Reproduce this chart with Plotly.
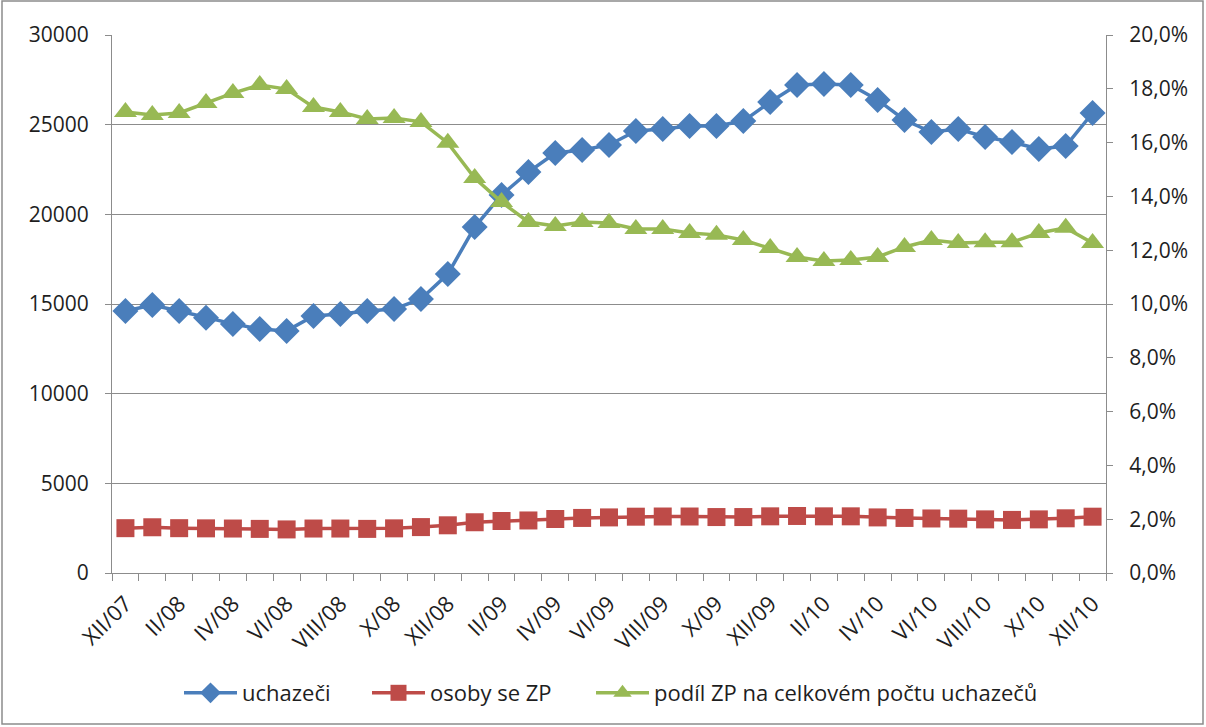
import plotly.graph_objects as go

months = ["XII/07", "I/08", "II/08", "III/08", "IV/08", "V/08", "VI/08", "VII/08", "VIII/08", "IX/08",
          "X/08", "XI/08", "XII/08", "I/09", "II/09", "III/09", "IV/09", "V/09", "VI/09", "VII/09",
          "VIII/09", "IX/09", "X/09", "XI/09", "XII/09", "I/10", "II/10", "III/10", "IV/10", "V/10",
          "VI/10", "VII/10", "VIII/10", "IX/10", "X/10", "XI/10", "XII/10"]

uchazeci = [14610, 14940, 14610, 14230, 13890, 13610, 13500, 14330, 14440, 14610,
            14720, 15280, 16670, 19290, 21080, 22360, 23420, 23590, 23870, 24650,
            24760, 24930, 24930, 25200, 26260, 27210, 27270, 27210, 26380, 25260,
            24590, 24760, 24310, 24030, 23640, 23810, 25650]

osoby_zp = [2500, 2550, 2500, 2490, 2480, 2460, 2430, 2480, 2480, 2460,
            2490, 2560, 2660, 2830, 2900, 2930, 3010, 3070, 3100, 3140,
            3150, 3150, 3120, 3120, 3160, 3180, 3160, 3160, 3100, 3070,
            3040, 3030, 2990, 2960, 2990, 3050, 3140]

podil_zp = [0.1714, 0.1703, 0.1710, 0.1747, 0.1784, 0.1814, 0.1799, 0.1732, 0.1714, 0.1688,
            0.1691, 0.1677, 0.1599, 0.1468, 0.1379, 0.1305, 0.1290, 0.1305, 0.1301, 0.1279,
            0.1279, 0.1264, 0.1257, 0.1238, 0.1208, 0.1175, 0.1160, 0.1164, 0.1175, 0.1212,
            0.1238, 0.1227, 0.1230, 0.1230, 0.1264, 0.1283, 0.1227]

left_ticks = [0, 5000, 10000, 15000, 20000, 25000, 30000]
right_ticks = [0.0, 0.02, 0.04, 0.06, 0.08, 0.10, 0.12, 0.14, 0.16, 0.18, 0.20]

BLUE = "#4A7EBB"
RED = "#BE4B48"
GREEN = "#98B954"
GRID = "#8C8C8C"
FONT = "Open Sans"
TXT = "#1E1E1E"

tick_text = [m if i % 2 == 0 else "" for i, m in enumerate(months)]

fig = go.Figure()
fig.add_trace(go.Scatter(x=months, y=uchazeci, name="uchazeči", mode="lines+markers",
                         line=dict(color=BLUE, width=3.5), legend="legend",
                         marker=dict(symbol="diamond", size=20, color=BLUE)))
fig.add_trace(go.Scatter(x=months, y=osoby_zp, name="osoby se ZP", mode="lines+markers",
                         line=dict(color=RED, width=3.5), legend="legend2",
                         marker=dict(symbol="square", size=18, color=RED)))
fig.add_trace(go.Scatter(x=months, y=podil_zp, name="podíl ZP na celkovém počtu uchazečů",
                         mode="lines+markers", yaxis="y2", legend="legend3",
                         line=dict(color=GREEN, width=3.5),
                         marker=dict(symbol="triangle-up", size=20, color=GREEN)))

L, R, T, B = 112, 100, 35, 154
W, H = 1206, 727
pw, ph = W - L - R, H - T - B

def px(x):
    return (x - L) / pw

def py(y):
    return (H - B - y) / ph

def leg(x_left):
    return dict(orientation="h", x=px(x_left), xanchor="left", y=py(693), yanchor="middle",
                font=dict(family=FONT, size=22, color=TXT), itemwidth=53,
                bgcolor="rgba(0,0,0,0)")

fig.update_layout(
    width=W, height=H,
    margin=dict(l=L, r=R, t=T, b=B, autoexpand=False),
    paper_bgcolor="white", plot_bgcolor="white",
    separators=", ",
    font=dict(family=FONT, size=21, color=TXT),
    showlegend=True,
    legend=leg(179),
    legend2=leg(367),
    legend3=leg(591),
    xaxis=dict(type="category", categoryorder="array", categoryarray=months,
               tickmode="array", tickvals=months, ticktext=tick_text,
               tickson="boundaries", ticks="outside", ticklen=7, tickcolor=GRID,
               tickangle=-45, showline=True, linecolor=GRID, linewidth=1.2,
               showgrid=False, zeroline=False, range=[-0.5, len(months) - 0.5],
               ticklabelstandoff=8,
               tickfont=dict(family=FONT, size=22, color=TXT)),
    yaxis=dict(range=[0, 30000], tickmode="array", tickvals=left_ticks, tickformat="d",
               showgrid=True, gridcolor=GRID, gridwidth=1.2,
               showline=True, linecolor=GRID, linewidth=1.2,
               ticks="outside", ticklen=6, tickcolor=GRID, zeroline=False,
               ticklabelstandoff=12,
               tickfont=dict(family=FONT, size=21, color=TXT)),
    yaxis2=dict(range=[0, 0.20], overlaying="y", side="right", tickmode="array",
                tickvals=right_ticks, tickformat=".1%", showgrid=False,
                showline=True, linecolor=GRID, linewidth=1.2,
                ticks="outside", ticklen=6, tickcolor=GRID, zeroline=False,
                ticklabelstandoff=12,
                tickfont=dict(family=FONT, size=21, color=TXT)),
    shapes=[dict(type="rect", xref="paper", yref="paper",
                 x0=px(2), x1=px(1203), y0=py(724), y1=py(1),
                 line=dict(color="#8C8C8C", width=1.5), fillcolor="rgba(0,0,0,0)", layer="below")],
)

fig.write_html("out.html", config={"displayModeBar": False},
               post_script="document.body.style.margin='0';document.body.style.overflow='hidden';")
